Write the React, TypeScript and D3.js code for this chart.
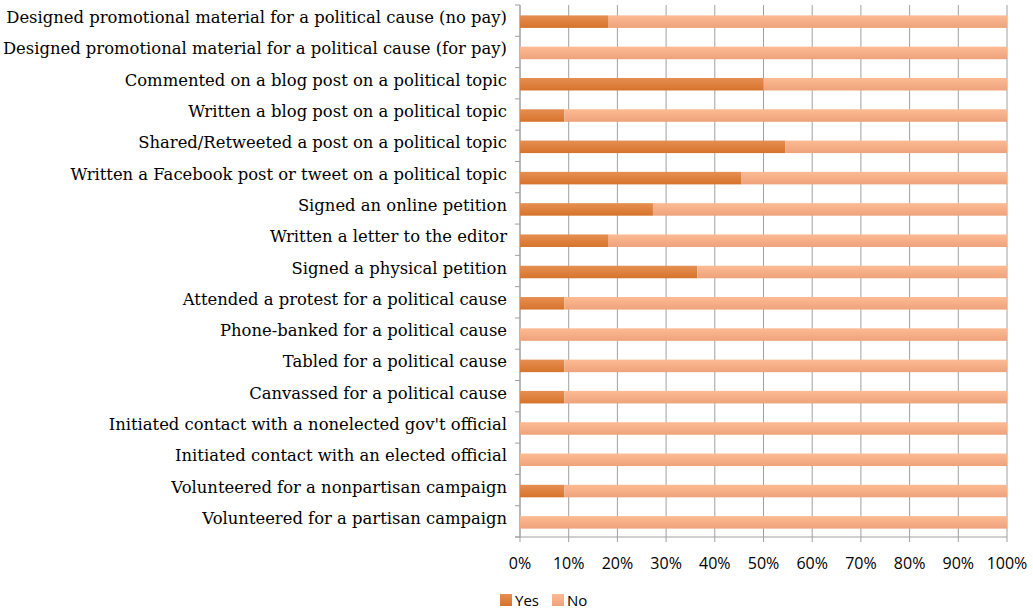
import React from "react";
import * as d3 from "d3";

const categories: string[] = [
  "Designed promotional material for a political cause (no pay)",
  "Designed promotional material for a political cause (for pay)",
  "Commented on a blog post on a political topic",
  "Written a blog post on a political topic",
  "Shared/Retweeted a post on a political topic",
  "Written a Facebook post or tweet on a political topic",
  "Signed an online petition",
  "Written a letter to the editor",
  "Signed a physical petition",
  "Attended a protest for a political cause",
  "Phone-banked for a political cause",
  "Tabled for a political cause",
  "Canvassed for a political cause",
  "Initiated contact with a nonelected gov't official",
  "Initiated contact with an elected official",
  "Volunteered for a nonpartisan campaign",
  "Volunteered for a partisan campaign",
];

const yesValues: number[] = [18.2, 0, 50, 9.1, 54.5, 45.5, 27.3, 18.2, 36.4, 9.1, 0, 9.1, 9.1, 0, 0, 9.1, 0];
const noValues: number[] = [81.8, 100, 50, 90.9, 45.5, 54.5, 72.7, 81.8, 63.6, 90.9, 100, 90.9, 90.9, 100, 100, 90.9, 100];

const xTicks: number[] = [0, 10, 20, 30, 40, 50, 60, 70, 80, 90, 100];
const seriesNames: string[] = ["Yes", "No"];

const W = 1033;
const H = 610;
const left = 520;
const right = 1007;
const top = 5;
const bottom = 537;

export default function App() {
  const x = d3.scaleLinear().domain([0, 100]).range([left, right]);
  const y = d3
    .scaleBand<string>()
    .domain(categories)
    .range([top, bottom])
    .paddingInner(0.6)
    .paddingOuter(0.3);
  const bh = y.bandwidth();
  const step = y.step();

  const rows = categories.map((c, i) => ({ c, yes: yesValues[i], no: noValues[i] }));

  return (
    <svg
      width={W}
      height={H}
      style={{ position: "absolute", left: 0, top: 0, background: "#fff" }}
    >
      <defs>
        <linearGradient id="gYes" x1="0" y1="0" x2="0" y2="1">
          <stop offset="0%" stopColor="#e68f52" />
          <stop offset="100%" stopColor="#d6732b" />
        </linearGradient>
        <linearGradient id="gNo" x1="0" y1="0" x2="0" y2="1">
          <stop offset="0%" stopColor="#fdbb93" />
          <stop offset="100%" stopColor="#eea27a" />
        </linearGradient>
      </defs>

      {/* gridlines */}
      {xTicks.map((t) => (
        <line
          key={"g" + t}
          x1={x(t)}
          x2={x(t)}
          y1={top}
          y2={bottom + 5}
          stroke="#a0a0a0"
          strokeWidth={1}
        />
      ))}

      {/* y axis line and ticks */}
      <line x1={left} x2={left} y1={top} y2={bottom} stroke="#a0a0a0" />
      {d3.range(categories.length + 1).map((i) => (
        <line
          key={"yt" + i}
          x1={left - 5}
          x2={left}
          y1={top + i * step}
          y2={top + i * step}
          stroke="#a0a0a0"
        />
      ))}
      {/* x axis line */}
      <line x1={left - 5} x2={right} y1={bottom} y2={bottom} stroke="#a0a0a0" />

      {/* bars */}
      {rows.map((r) => {
        const yy = (y(r.c) as number) + 1;
        return (
          <g key={r.c}>
            {r.yes > 0 && (
              <rect x={x(0)} y={yy} width={x(r.yes) - x(0)} height={bh} fill="url(#gYes)" />
            )}
            {r.no > 0 && (
              <rect x={x(r.yes)} y={yy} width={x(r.yes + r.no) - x(r.yes)} height={bh} fill="url(#gNo)" />
            )}
          </g>
        );
      })}

      {/* category labels */}
      {rows.map((r) => (
        <text
          key={"l" + r.c}
          x={left - 13}
          y={(y(r.c) as number) + bh / 2 - 3}
          textAnchor="end"
          dominantBaseline="central"
          fontFamily="'DejaVu Serif', Georgia, serif"
          fontSize={16.4}
          fill="#000"
        >
          {r.c}
        </text>
      ))}

      {/* x tick labels */}
      {xTicks.map((t) => (
        <text
          key={"xl" + t}
          x={x(t)}
          y={bottom + 32}
          textAnchor="middle"
          fontFamily="'Open Sans', Calibri, sans-serif"
          fontSize={16}
          fill="#000"
        >
          {t + "%"}
        </text>
      ))}

      {/* legend */}
      <g fontFamily="'Open Sans', Calibri, sans-serif" fontSize={15}>
        <rect x={500} y={594} width={12} height={12} fill="url(#gYes)" />
        <text x={515} y={606} fill="#000">{seriesNames[0]}</text>
        <rect x={552} y={594} width={12} height={12} fill="url(#gNo)" />
        <text x={567} y={606} fill="#000">{seriesNames[1]}</text>
      </g>
    </svg>
  );
}
